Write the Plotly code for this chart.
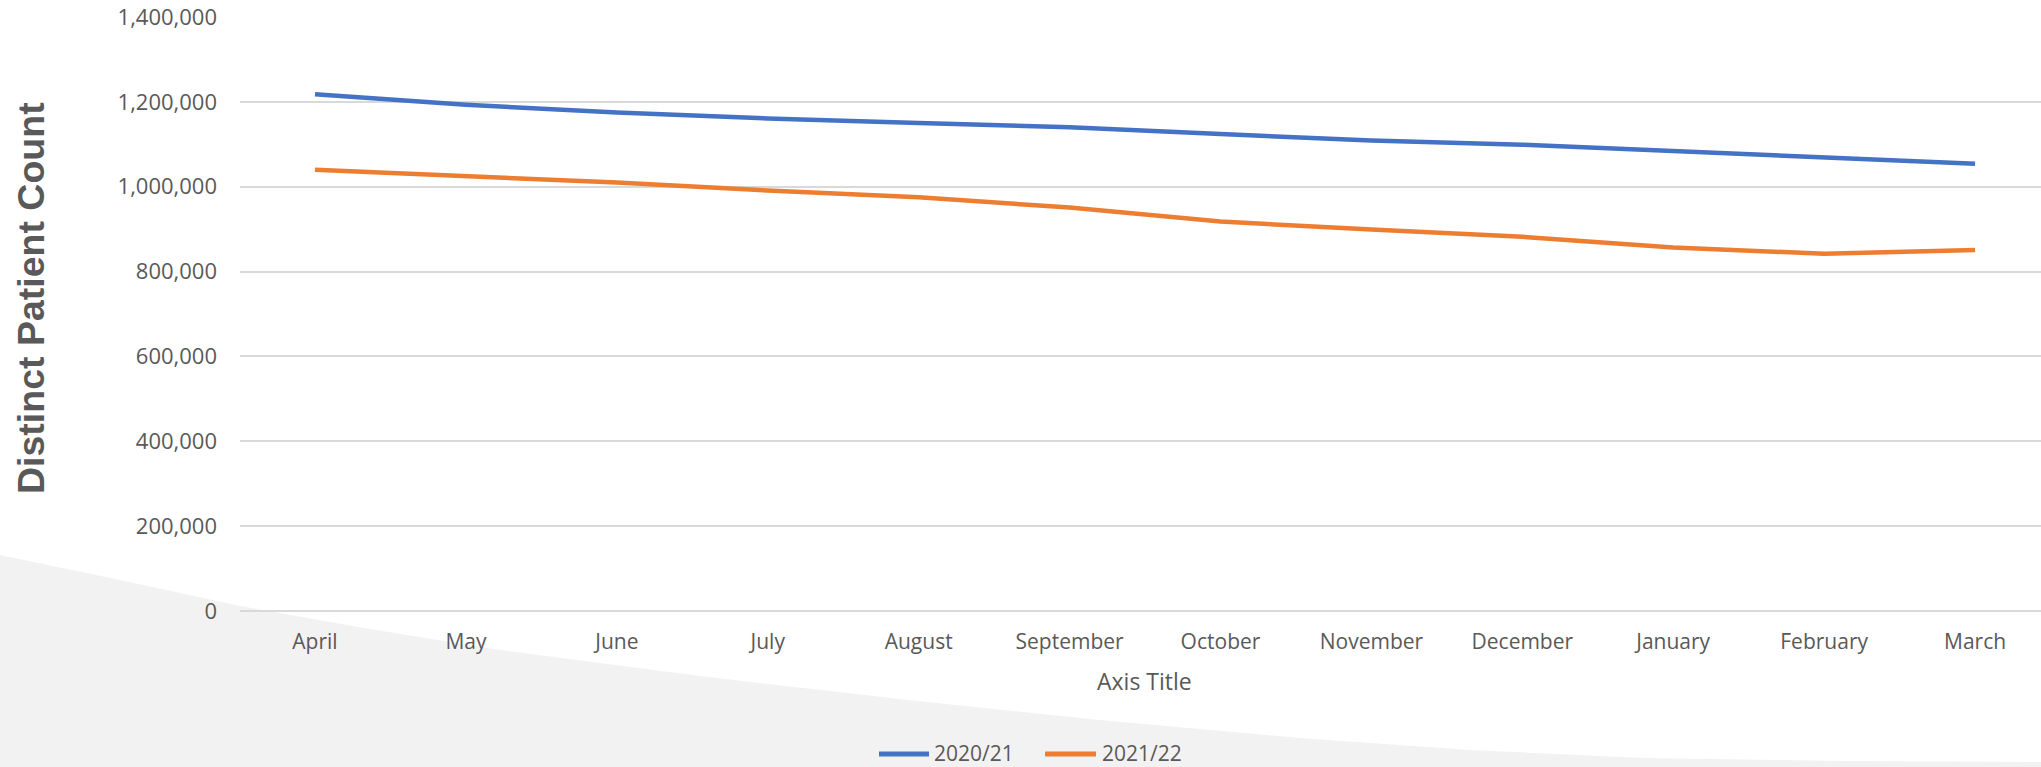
import plotly.graph_objects as go

months = ["April", "May", "June", "July", "August", "September", "October",
          "November", "December", "January", "February", "March"]
series_2020 = [1218000, 1193000, 1175000, 1161000, 1150000, 1140000, 1124000,
               1109000, 1099000, 1084000, 1070000, 1054000]
series_2021 = [1040000, 1025000, 1010000, 991000, 975000, 951000, 918000,
               899000, 882000, 857000, 842000, 851000]
series_names = ["2020/21", "2021/22"]
series_colors = ["#4472C4", "#ED7D31"]
y_ticks = [0, 200000, 400000, 600000, 800000, 1000000, 1200000, 1400000]

W, H = 2041, 767
L, R, T, B = 240, 0, 17, 156
PW, PH = W - L - R, H - T - B

def px2paper(x, y):
    return (x - L) / PW, (H - B - y) / PH

# decorative background swoosh (pixel outline -> paper coords)
outline = [(0, 555), (120, 580), (240, 606), (370, 629), (500, 650), (700, 676),
           (908, 700), (1100, 720), (1300, 738), (1470, 750), (1643, 758),
           (1850, 761), (2041, 762)]
pts = [px2paper(x, y) for x, y in outline]
path = "M {:.5f},{:.5f} ".format(*pts[0])
for p in pts[1:]:
    path += "L {:.5f},{:.5f} ".format(*p)
bx, by = px2paper(W, H)
ax0, ay0 = px2paper(0, H)
path += "L {:.5f},{:.5f} L {:.5f},{:.5f} Z".format(bx, by, ax0, ay0)

fig = go.Figure()
for name, vals, col in zip(series_names, [series_2020, series_2021], series_colors):
    fig.add_trace(go.Scatter(x=months, y=vals, mode="lines", name=name,
                             line=dict(color=col, width=4.5)))

tick_font = dict(family="Open Sans", size=21, color="#595959")

shapes = [dict(type="path", path=path, xref="paper", yref="paper",
               fillcolor="#f2f2f2", line=dict(width=0), layer="below")]
annotations = [
    dict(text="<b>Distinct Patient Count</b>", xref="paper", yref="paper",
         x=px2paper(31, 298)[0], y=px2paper(31, 298)[1],
         xanchor="center", yanchor="middle", textangle=-90, showarrow=False,
         font=dict(family="Liberation Sans", size=37.5, color="#595959")),
    dict(text="Axis Title", xref="paper", yref="paper",
         x=px2paper(1144, 681)[0], y=px2paper(1144, 681)[1],
         xanchor="center", yanchor="middle", showarrow=False,
         font=dict(family="Open Sans", size=23, color="#595959")),
]
# custom legend (longer line samples as in reference)
LEG_Y = 753
legend_items = [(879, 929, 932), (1045, 1096, 1100)]
for (x0, x1, xt), name, col in zip(legend_items, series_names, series_colors):
    p0 = px2paper(x0, LEG_Y + 1)
    p1 = px2paper(x1, LEG_Y + 1)
    shapes.append(dict(type="line", xref="paper", yref="paper",
                       x0=p0[0], y0=p0[1], x1=p1[0], y1=p1[1],
                       line=dict(color=col, width=5)))
    pt = px2paper(xt, LEG_Y)
    annotations.append(dict(text=name, xref="paper", yref="paper",
                            x=pt[0], y=pt[1], xanchor="left", yanchor="middle",
                            showarrow=False, font=tick_font))

fig.update_layout(
    width=W, height=H,
    margin=dict(l=L, r=R, t=T, b=B, pad=0),
    paper_bgcolor="white",
    plot_bgcolor="rgba(0,0,0,0)",
    showlegend=False,
    xaxis=dict(type="category", range=[-0.497, 11.437], showgrid=False,
               showline=False, zeroline=False, ticks="",
               tickfont=tick_font, ticklabelstandoff=16),
    yaxis=dict(range=[0, 1400000], tickvals=y_ticks, tickformat=",",
               showgrid=True, gridcolor="#d9d9d9", gridwidth=1.5,
               zeroline=True, zerolinecolor="#d9d9d9", zerolinewidth=1.5,
               showline=False, ticks="",
               tickfont=dict(family="Open Sans", size=22, color="#595959"),
               ticklabelstandoff=22),
    shapes=shapes,
    annotations=annotations,
)

fig.write_html("out.html", config={"displayModeBar": False},
               post_script="document.body.style.margin='0';document.body.style.overflow='hidden';")
